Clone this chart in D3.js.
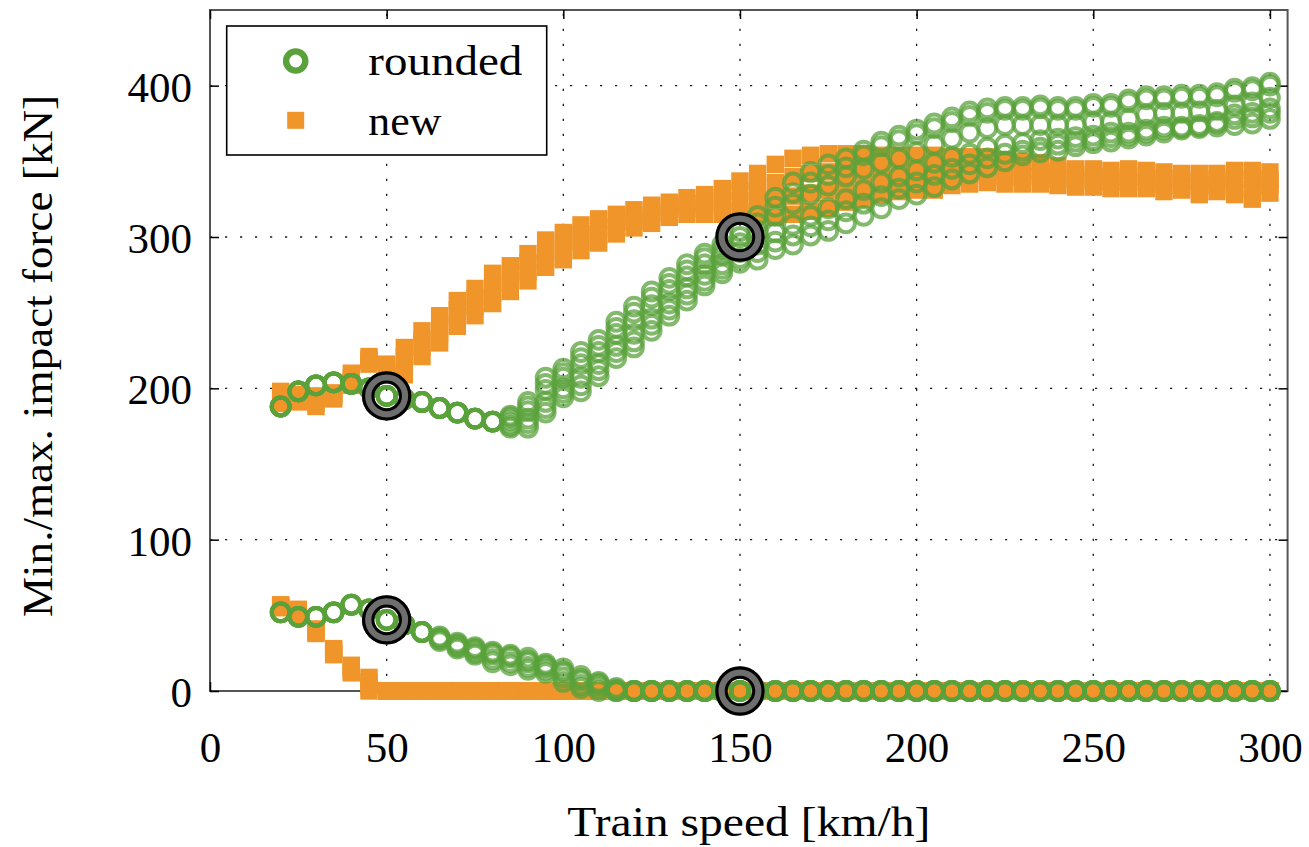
<!DOCTYPE html>
<html>
<head>
<meta charset="utf-8">
<script src="https://cdn.jsdelivr.net/npm/d3@7"></script>
<style>
  html, body { margin: 0; padding: 0; background: #ffffff; }
  svg { display: block; }
  svg text { font-family: "Liberation Serif", "DejaVu Serif", serif; }
</style>
</head>
<body>
<svg id="chart" width="1309" height="847"></svg>
<script>
// Train speeds [km/h]
const speeds = [20,25,30,35,40,45,50,55,60,65,70,75,80,85,90,95,100,105,110,115,120,125,130,135,140,145,150,155,160,165,170,175,180,185,190,195,200,205,210,215,220,225,230,235,240,245,250,255,260,265,270,275,280,285,290,295,300];

// "rounded" wheel: maximum impact force [kN], six variants
const roundedMaxA = [188,198,202,204,203,200,195,193,191,187,184,180,178,182,191,207,213,224,232,244,254,264,273,282,289,295,304,314,326,336,343,348,352,357,363,367,371,375,379,383,385,386,386,387,386,386,388,388,391,393,393,394,394,395,398,399,402];
const roundedMaxE = [188,198,202,204,203,200,195,193,191,187,184,180,178,181,188,203,210,220,228,240,250,260,269,278,286,292,300,309,320,329,336,341,346,354,360,364,368,372,376,380,382,384,384,385,384,384,386,386,389,391,391,392,392,393,396,397,400];
const roundedMaxB = [188,198,202,204,203,200,195,193,191,187,184,180,178,179,185,199,207,216,224,236,245,255,265,274,282,288,296,304,314,322,328,334,340,345,349,352,356,361,365,369,372,374,374,374,374,374,376,376,378,381,382,382,383,384,387,389,392];
const roundedMaxC = [188,198,202,204,203,200,195,193,191,187,184,180,178,177,180,191,200,207,216,228,236,246,256,266,275,282,290,295,303,308,314,319,325,331,336,340,344,349,353,355,359,361,362,364,365,366,367,369,369,371,373,373,374,376,381,382,385];
const roundedMaxF = [188,198,202,204,203,200,195,193,191,187,184,180,178,175,177,187,197,202,212,224,231,242,252,262,271,279,286,290,297,301,307,311,317,322,327,332,336,341,345,348,352,355,357,359,361,363,364,366,367,369,371,372,373,375,378,379,382];
const roundedMaxD = [188,198,202,204,203,200,195,193,191,187,184,180,178,174,174,184,194,198,208,220,227,238,248,258,268,276,283,285,292,295,301,304,309,314,319,325,328,333,338,342,346,350,354,356,357,360,362,363,365,367,369,371,372,373,374,375,378];

// "rounded" wheel: minimum impact force [kN], five variants
const roundedMinA = [52,49,49,52,57,54,47,44,39,36,32,29,26,24,22,18,15,10,6,2,0,0,0,0,0,0,0,0,0,0,0,0,0,0,0,0,0,0,0,0,0,0,0,0,0,0,0,0,0,0,0,0,0,0,0,0,0];
const roundedMinE = [52,49,49,52,57,54,47,44,39,35,31,28,25,23,20,17,13,8,5,1,0,0,0,0,0,0,0,0,0,0,0,0,0,0,0,0,0,0,0,0,0,0,0,0,0,0,0,0,0,0,0,0,0,0,0,0,0];
const roundedMinB = [52,49,49,52,57,54,47,44,39,35,30,27,24,22,19,16,12,7,4,0,0,0,0,0,0,0,0,0,0,0,0,0,0,0,0,0,0,0,0,0,0,0,0,0,0,0,0,0,0,0,0,0,0,0,0,0,0];
const roundedMinC = [52,49,49,52,57,54,47,44,39,34,29,25,21,19,16,14,9,4,2,0,0,0,0,0,0,0,0,0,0,0,0,0,0,0,0,0,0,0,0,0,0,0,0,0,0,0,0,0,0,0,0,0,0,0,0,0,0];
const roundedMinD = [52,49,49,52,57,54,47,44,39,33,28,24,19,17,14,12,6,2,0,0,0,0,0,0,0,0,0,0,0,0,0,0,0,0,0,0,0,0,0,0,0,0,0,0,0,0,0,0,0,0,0,0,0,0,0,0,0];

// "new" wheel: maximum impact force [kN], four variants
const newMaxA = [198,196,195,197,210,221,216,227,238,248,258,266,276,281,289,298,303,308,312,315,318,321,323,326,328,332,337,342,348,352,354,355,355,355,354,354,354,354,353,353,353,351,350,349,347,345,345,344,345,344,343,342,342,342,344,344,343];
const newMaxB = [195,194,193,196,207,219,214,221,232,242,252,260,269,275,283,292,297,302,307,311,314,317,320,322,324,326,330,333,336,340,342,343,344,345,345,346,346,346,347,347,347,346,345,344,343,341,341,340,341,340,339,338,337,338,339,338,338];
const newMaxC = [193,193,190,194,205,218,212,215,227,236,247,254,263,270,277,286,291,297,301,306,310,313,316,319,319,321,324,324,325,327,329,331,334,335,337,338,339,339,340,341,342,340,340,340,338,337,337,336,336,336,334,335,333,334,333,331,334];
const newMaxD = [190,191,188,193,202,216,210,209,221,230,241,248,256,264,271,280,285,291,296,302,306,309,313,315,315,315,317,315,313,315,317,319,323,325,328,330,331,331,334,335,336,335,335,335,334,333,333,332,332,332,330,331,328,330,328,325,329];

// "new" wheel: minimum impact force [kN], four variants
const newMinA = [57,54,41,28,17,9,0,0,0,0,0,0,0,0,0,0,0,0,0,0,0,0,0,0,0,0,0,0,0,0,0,0,0,0,0,0,0,0,0,0,0,0,0,0,0,0,0,0,0,0,0,0,0,0,0,0,0];
const newMinB = [56,53,40,27,15,6,0,0,0,0,0,0,0,0,0,0,0,0,0,0,0,0,0,0,0,0,0,0,0,0,0,0,0,0,0,0,0,0,0,0,0,0,0,0,0,0,0,0,0,0,0,0,0,0,0,0,0];
const newMinC = [56,51,39,25,13,3,0,0,0,0,0,0,0,0,0,0,0,0,0,0,0,0,0,0,0,0,0,0,0,0,0,0,0,0,0,0,0,0,0,0,0,0,0,0,0,0,0,0,0,0,0,0,0,0,0,0,0];
const newMinD = [55,50,38,24,12,0,0,0,0,0,0,0,0,0,0,0,0,0,0,0,0,0,0,0,0,0,0,0,0,0,0,0,0,0,0,0,0,0,0,0,0,0,0,0,0,0,0,0,0,0,0,0,0,0,0,0,0];

// Highlighted operating points
const highlightSpeeds = [50, 50, 150, 150];
const highlightForces = [195, 47, 300, 0];

// Axis ticks and labels
const xTicks = [0, 50, 100, 150, 200, 250, 300];
const yTicks = [0, 100, 200, 300, 400];
const xTitle = "Train speed [km/h]";
const yTitle = "Min./max. impact force [kN]";
const legendLabels = ["rounded", "new"];

// ---------------------------------------------------------------
const GREEN = "#5aa13b";
const ORANGE = "#f0952a";
const FONT = 43;
const SERIF = "'Liberation Serif', 'DejaVu Serif', serif";

const svg = d3.select("#chart");
const box = { left: 210, right: 1287.6, top: 10, bottom: 691 };

const x = d3.scaleLinear().domain([0, 305]).range([box.left, box.right]);
const y = d3.scaleLinear().domain([0, 450]).range([box.bottom, box.top]);

// dotted grid
const grid = svg.append("g").attr("stroke", "#1a1a1a").attr("stroke-width", 1.3)
  .attr("stroke-dasharray", "2.2,12.8");
grid.selectAll("line.v").data(xTicks.filter(d => d > 0)).join("line")
  .attr("x1", d => x(d)).attr("x2", d => x(d))
  .attr("y1", box.bottom).attr("y2", box.top);
grid.selectAll("line.h").data(yTicks.filter(d => d > 0)).join("line")
  .attr("x1", box.left).attr("x2", box.right)
  .attr("y1", d => y(d)).attr("y2", d => y(d));

// frame
svg.append("rect")
  .attr("x", box.left).attr("y", box.top)
  .attr("width", box.right - box.left).attr("height", box.bottom - box.top)
  .attr("fill", "none").attr("stroke", "#555").attr("stroke-width", 2);

// axes with inward ticks on all four sides
const TICK = 9;
const gx = svg.append("g").attr("transform", `translate(0,${box.bottom})`)
  .call(d3.axisBottom(x).tickValues(xTicks).tickSize(-TICK).tickFormat(d3.format("d")));
const gxTop = svg.append("g").attr("transform", `translate(0,${box.top})`)
  .call(d3.axisTop(x).tickValues(xTicks).tickSize(-TICK).tickFormat(""));
const gy = svg.append("g").attr("transform", `translate(${box.left},0)`)
  .call(d3.axisLeft(y).tickValues(yTicks).tickSize(-TICK).tickFormat(d3.format("d")));
const gyRight = svg.append("g").attr("transform", `translate(${box.right},0)`)
  .call(d3.axisRight(y).tickValues(yTicks).tickSize(-TICK).tickFormat(""));

[gx, gxTop, gy, gyRight].forEach(g => {
  g.attr("font-family", SERIF).attr("font-size", FONT);
  g.select(".domain").remove();
  g.selectAll(".tick line").attr("stroke", "#000").attr("stroke-width", 1.5);
});
gx.selectAll(".tick text")
  .attr("y", 71).attr("dy", 0)
  .attr("font-family", SERIF).attr("font-size", FONT).attr("fill", "#000");
gy.selectAll(".tick text")
  .attr("x", -18).attr("dy", "0.36em")
  .attr("font-family", SERIF).attr("font-size", FONT).attr("fill", "#000");

// data layers
const SQ = 17.4;
const newRows = [newMaxA, newMaxB, newMaxC, newMaxD, newMinA, newMinB, newMinC, newMinD];
const roundedRows = [roundedMaxA, roundedMaxE, roundedMaxB, roundedMaxC, roundedMaxF, roundedMaxD,
                     roundedMinA, roundedMinE, roundedMinB, roundedMinC, roundedMinD];

const toPoints = rows => rows.flatMap(row => row.map((v, i) => ({ s: speeds[i], f: v })));

svg.append("g").attr("fill", ORANGE)
  .selectAll("rect").data(toPoints(newRows)).join("rect")
  .attr("x", d => x(d.s) - SQ / 2).attr("y", d => y(d.f) - SQ / 2)
  .attr("width", SQ).attr("height", SQ);

svg.append("g").attr("fill", "none").attr("stroke", GREEN)
  .attr("stroke-width", 4).attr("stroke-opacity", 0.75)
  .selectAll("circle").data(toPoints(roundedRows)).join("circle")
  .attr("cx", d => x(d.s)).attr("cy", d => y(d.f)).attr("r", 8.9);

// highlighted points: grey ring with black outlines
const hl = svg.append("g").selectAll("g")
  .data(highlightSpeeds.map((s, i) => ({ s, f: highlightForces[i] })))
  .join("g").attr("transform", d => `translate(${x(d.s)},${y(d.f)})`);
hl.append("circle").attr("r", 18.6).attr("fill", "none")
  .attr("stroke", "#6e6e6e").attr("stroke-width", 12);
hl.append("circle").attr("r", 23.1).attr("fill", "none")
  .attr("stroke", "#000").attr("stroke-width", 3.2);
hl.append("circle").attr("r", 13.8).attr("fill", "none")
  .attr("stroke", "#000").attr("stroke-width", 3);

// legend
const lg = svg.append("g").attr("font-family", SERIF);
lg.append("rect").attr("x", 226.7).attr("y", 26).attr("width", 320).attr("height", 129)
  .attr("fill", "#fff").attr("stroke", "#000").attr("stroke-width", 1.6);
lg.append("circle").attr("cx", 295.7).attr("cy", 61).attr("r", 9.6)
  .attr("fill", "none").attr("stroke", GREEN).attr("stroke-width", 6.4);
lg.append("rect").attr("x", 295.7 - 8.5).attr("y", 120.3 - 8.5).attr("width", 17).attr("height", 17)
  .attr("fill", ORANGE);
lg.selectAll("text").data(legendLabels).join("text")
  .attr("x", 368.3).attr("y", (d, i) => i === 0 ? 75 : 135)
  .attr("font-family", SERIF).attr("font-size", FONT).attr("fill", "#000")
  .attr("textLength", (d, i) => i === 0 ? 154 : 73).attr("lengthAdjust", "spacingAndGlyphs")
  .text(d => d);

// axis titles
svg.append("text")
  .attr("x", (box.left + box.right) / 2).attr("y", 836)
  .attr("text-anchor", "middle")
  .attr("font-family", SERIF).attr("font-size", FONT).attr("fill", "#000")
  .attr("textLength", 363).attr("lengthAdjust", "spacingAndGlyphs")
  .text(xTitle);
svg.append("text")
  .attr("transform", "translate(52,356) rotate(-90)")
  .attr("text-anchor", "middle")
  .attr("font-family", SERIF).attr("font-size", FONT).attr("fill", "#000")
  .attr("textLength", 522).attr("lengthAdjust", "spacingAndGlyphs")
  .text(yTitle);
</script>
</body>
</html>
